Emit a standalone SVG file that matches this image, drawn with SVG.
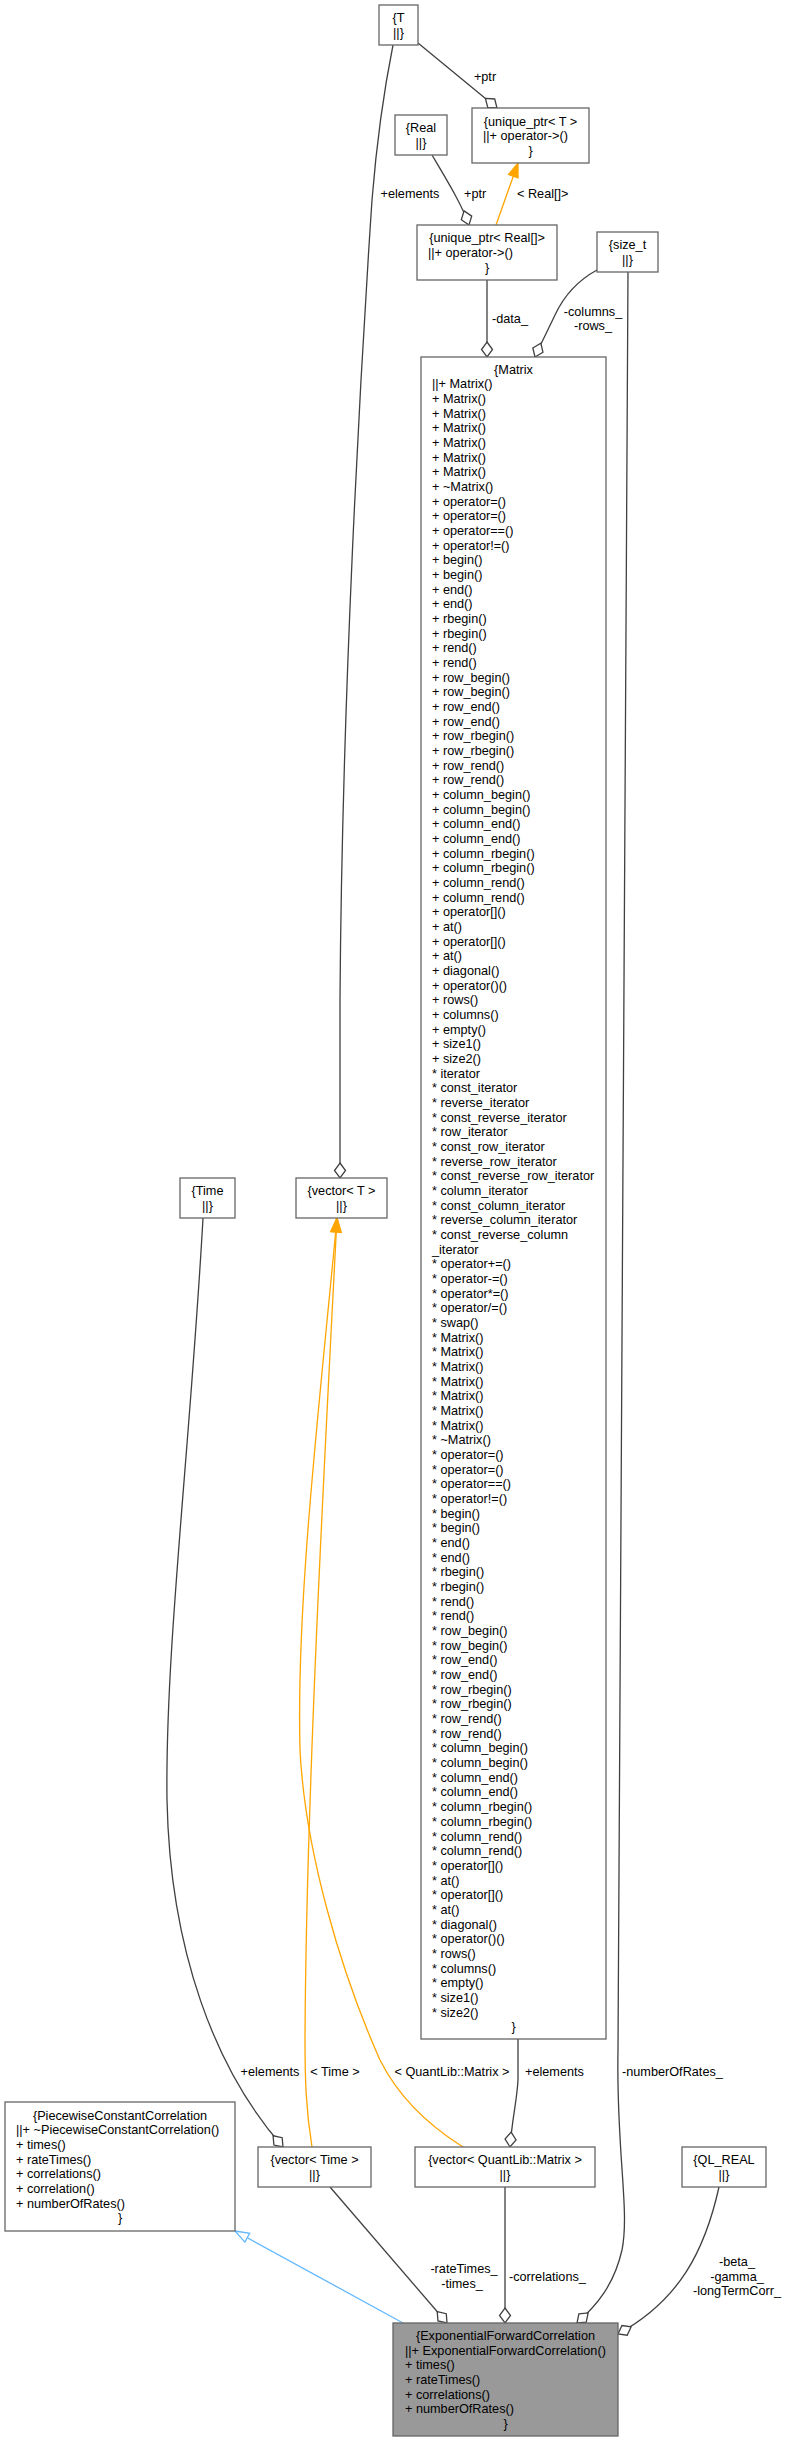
<svg xmlns="http://www.w3.org/2000/svg" width="788" height="2441" viewBox="0 0 788 2441">
<style>
.t{font-family:"Liberation Sans",Arial,sans-serif;font-size:12.7px;fill:#000}
.c{text-anchor:middle}
.n{fill:#fff;stroke:#666;stroke-width:1.3}
.nf{fill:#999;stroke:#666;stroke-width:1.3}
.e{fill:none;stroke:#404040;stroke-width:1.3}
.o{fill:none;stroke:#FFA500;stroke-width:1.3}
.b{fill:none;stroke:#63B8FF;stroke-width:1.3}
</style>
<defs>
<marker id="dia" markerUnits="userSpaceOnUse" markerWidth="20" markerHeight="16" refX="15" refY="5.5" orient="auto" overflow="visible"><path d="M0,5.5 L7.5,0 L15,5.5 L7.5,11 Z" fill="#fff" stroke="#404040" stroke-width="1.3"/></marker>
<marker id="oarr" markerUnits="userSpaceOnUse" markerWidth="18" markerHeight="14" refX="14" refY="5" orient="auto" overflow="visible"><path d="M0,0 L14,5 L0,10 Z" fill="#FFA500" stroke="#FFA500" stroke-width="1.3"/></marker>
<marker id="inh" markerUnits="userSpaceOnUse" markerWidth="18" markerHeight="14" refX="14" refY="5" orient="auto" overflow="visible"><path d="M0,0 L14,5 L0,10 Z" fill="#fff" stroke="#63B8FF" stroke-width="1.3"/></marker>
</defs>

<g id="edges">
<path class="e" d="M393,45 C383,95 376,150 372,200 C360,380 342,700 340,1000 L340,1178" marker-end="url(#dia)"/>
<path class="e" d="M418,43 L497,108" marker-end="url(#dia)"/>
<path class="e" d="M432,155 C448,182 462,205 469,225" marker-end="url(#dia)"/>
<path class="o" d="M496,225 L518,163" marker-end="url(#oarr)"/>
<path class="e" d="M487,280 L487,357" marker-end="url(#dia)"/>
<path class="e" d="M597,270 C575,282 562,300 555,315 C548,330 540,345 535,357" marker-end="url(#dia)"/>
<path class="e" d="M628,272 L618,2050 C616,2150 630,2210 622,2250 C614,2285 597,2305 577,2323" marker-end="url(#dia)"/>
<path class="e" d="M719,2187 C705,2250 680,2300 618,2334" marker-end="url(#dia)"/>
<path class="e" d="M505,2187 L505,2323" marker-end="url(#dia)"/>
<path class="e" d="M330,2187 L447,2323" marker-end="url(#dia)"/>
<path class="e" d="M518,2039 L518,2080 C517,2100 512,2120 510,2147" marker-end="url(#dia)"/>
<path class="e" d="M203,1218 C190,1450 165,1650 167,1800 C170,1950 215,2070 283,2147" marker-end="url(#dia)"/>
<path class="o" d="M463,2147 C420,2120 395,2090 380,2060 C340,1970 305,1850 300,1750 C296,1600 320,1400 337,1218" marker-end="url(#oarr)"/>
<path class="o" d="M312,2147 C306,2110 305,2080 305,2040 C306,1800 325,1450 337,1218" marker-end="url(#oarr)"/>
<path class="b" d="M403,2323 L235,2231" marker-end="url(#inh)"/>
<text class="t c" x="410" y="197.5">+elements</text>
<text class="t c" x="485" y="80.5">+ptr</text>
<text class="t" x="464" y="197.5">+ptr</text>
<text class="t" x="517" y="197.5">&lt; Real[]&gt;</text>
<text class="t" x="492" y="322.5">-data_</text>
<text class="t c" x="593" y="315.5">-columns_</text>
<text class="t c" x="593" y="329.5">-rows_</text>
<text class="t c" x="270" y="2075.5">+elements</text>
<text class="t c" x="335" y="2075.5">&lt; Time &gt;</text>
<text class="t c" x="452" y="2075.5">&lt; QuantLib::Matrix &gt;</text>
<text class="t" x="525" y="2075.5">+elements</text>
<text class="t" x="622" y="2075.5">-numberOfRates_</text>
<text class="t c" x="464" y="2272.5">-rateTimes_</text>
<text class="t c" x="462" y="2287.5">-times_</text>
<text class="t" x="509" y="2280.5">-correlations_</text>
<text class="t c" x="737" y="2265.5">-beta_</text>
<text class="t c" x="737" y="2280.5">-gamma_</text>
<text class="t c" x="737" y="2294.5">-longTermCorr_</text>
</g>

<g id="node-T">
<rect class="n" x="379" y="5" width="39" height="40"/>
<text class="t c" x="398.5" y="22.2">{T</text>
<text class="t c" x="398.5" y="36.8">||}</text>
</g>

<g id="node-unique_ptr_T">
<rect class="n" x="472" y="108" width="117" height="55"/>
<text class="t c" x="530.5" y="125.5">{unique_ptr&lt; T &gt;</text>
<text class="t" x="483" y="140.2">||+ operator-&gt;()</text>
<text class="t c" x="530.5" y="154.8">}</text>
</g>

<g id="node-Real">
<rect class="n" x="395" y="115" width="52" height="40"/>
<text class="t c" x="421" y="132.2">{Real</text>
<text class="t c" x="421" y="146.8">||}</text>
</g>

<g id="node-unique_ptr_Real">
<rect class="n" x="417" y="225" width="140" height="55"/>
<text class="t c" x="487" y="242.3">{unique_ptr&lt; Real[]&gt;</text>
<text class="t" x="428" y="257">||+ operator-&gt;()</text>
<text class="t c" x="487" y="271.7">}</text>
</g>

<g id="node-size_t">
<rect class="n" x="597" y="232" width="61" height="40"/>
<text class="t c" x="627.5" y="249.2">{size_t</text>
<text class="t c" x="627.5" y="263.8">||}</text>
</g>

<g id="node-Matrix">
<rect class="n" x="421" y="357" width="185" height="1682"/>
<text class="t c" x="513.5" y="373.5">{Matrix</text>
<text class="t" x="432" y="373.5"><tspan x="432" dy="14.67">||+ Matrix()</tspan><tspan x="432" dy="14.67">+ Matrix()</tspan><tspan x="432" dy="14.67">+ Matrix()</tspan><tspan x="432" dy="14.67">+ Matrix()</tspan><tspan x="432" dy="14.67">+ Matrix()</tspan><tspan x="432" dy="14.67">+ Matrix()</tspan><tspan x="432" dy="14.67">+ Matrix()</tspan><tspan x="432" dy="14.67">+ ~Matrix()</tspan><tspan x="432" dy="14.67">+ operator=()</tspan><tspan x="432" dy="14.67">+ operator=()</tspan><tspan x="432" dy="14.67">+ operator==()</tspan><tspan x="432" dy="14.67">+ operator!=()</tspan><tspan x="432" dy="14.67">+ begin()</tspan><tspan x="432" dy="14.67">+ begin()</tspan><tspan x="432" dy="14.67">+ end()</tspan><tspan x="432" dy="14.67">+ end()</tspan><tspan x="432" dy="14.67">+ rbegin()</tspan><tspan x="432" dy="14.67">+ rbegin()</tspan><tspan x="432" dy="14.67">+ rend()</tspan><tspan x="432" dy="14.67">+ rend()</tspan><tspan x="432" dy="14.67">+ row_begin()</tspan><tspan x="432" dy="14.67">+ row_begin()</tspan><tspan x="432" dy="14.67">+ row_end()</tspan><tspan x="432" dy="14.67">+ row_end()</tspan><tspan x="432" dy="14.67">+ row_rbegin()</tspan><tspan x="432" dy="14.67">+ row_rbegin()</tspan><tspan x="432" dy="14.67">+ row_rend()</tspan><tspan x="432" dy="14.67">+ row_rend()</tspan><tspan x="432" dy="14.67">+ column_begin()</tspan><tspan x="432" dy="14.67">+ column_begin()</tspan><tspan x="432" dy="14.67">+ column_end()</tspan><tspan x="432" dy="14.67">+ column_end()</tspan><tspan x="432" dy="14.67">+ column_rbegin()</tspan><tspan x="432" dy="14.67">+ column_rbegin()</tspan><tspan x="432" dy="14.67">+ column_rend()</tspan><tspan x="432" dy="14.67">+ column_rend()</tspan><tspan x="432" dy="14.67">+ operator[]()</tspan><tspan x="432" dy="14.67">+ at()</tspan><tspan x="432" dy="14.67">+ operator[]()</tspan><tspan x="432" dy="14.67">+ at()</tspan><tspan x="432" dy="14.67">+ diagonal()</tspan><tspan x="432" dy="14.67">+ operator()()</tspan><tspan x="432" dy="14.67">+ rows()</tspan><tspan x="432" dy="14.67">+ columns()</tspan><tspan x="432" dy="14.67">+ empty()</tspan><tspan x="432" dy="14.67">+ size1()</tspan><tspan x="432" dy="14.67">+ size2()</tspan><tspan x="432" dy="14.67">* iterator</tspan><tspan x="432" dy="14.67">* const_iterator</tspan><tspan x="432" dy="14.67">* reverse_iterator</tspan><tspan x="432" dy="14.67">* const_reverse_iterator</tspan><tspan x="432" dy="14.67">* row_iterator</tspan><tspan x="432" dy="14.67">* const_row_iterator</tspan><tspan x="432" dy="14.67">* reverse_row_iterator</tspan><tspan x="432" dy="14.67">* const_reverse_row_iterator</tspan><tspan x="432" dy="14.67">* column_iterator</tspan><tspan x="432" dy="14.67">* const_column_iterator</tspan><tspan x="432" dy="14.67">* reverse_column_iterator</tspan><tspan x="432" dy="14.67">* const_reverse_column</tspan><tspan x="432" dy="14.67">_iterator</tspan><tspan x="432" dy="14.67">* operator+=()</tspan><tspan x="432" dy="14.67">* operator-=()</tspan><tspan x="432" dy="14.67">* operator*=()</tspan><tspan x="432" dy="14.67">* operator/=()</tspan><tspan x="432" dy="14.67">* swap()</tspan><tspan x="432" dy="14.67">* Matrix()</tspan><tspan x="432" dy="14.67">* Matrix()</tspan><tspan x="432" dy="14.67">* Matrix()</tspan><tspan x="432" dy="14.67">* Matrix()</tspan><tspan x="432" dy="14.67">* Matrix()</tspan><tspan x="432" dy="14.67">* Matrix()</tspan><tspan x="432" dy="14.67">* Matrix()</tspan><tspan x="432" dy="14.67">* ~Matrix()</tspan><tspan x="432" dy="14.67">* operator=()</tspan><tspan x="432" dy="14.67">* operator=()</tspan><tspan x="432" dy="14.67">* operator==()</tspan><tspan x="432" dy="14.67">* operator!=()</tspan><tspan x="432" dy="14.67">* begin()</tspan><tspan x="432" dy="14.67">* begin()</tspan><tspan x="432" dy="14.67">* end()</tspan><tspan x="432" dy="14.67">* end()</tspan><tspan x="432" dy="14.67">* rbegin()</tspan><tspan x="432" dy="14.67">* rbegin()</tspan><tspan x="432" dy="14.67">* rend()</tspan><tspan x="432" dy="14.67">* rend()</tspan><tspan x="432" dy="14.67">* row_begin()</tspan><tspan x="432" dy="14.67">* row_begin()</tspan><tspan x="432" dy="14.67">* row_end()</tspan><tspan x="432" dy="14.67">* row_end()</tspan><tspan x="432" dy="14.67">* row_rbegin()</tspan><tspan x="432" dy="14.67">* row_rbegin()</tspan><tspan x="432" dy="14.67">* row_rend()</tspan><tspan x="432" dy="14.67">* row_rend()</tspan><tspan x="432" dy="14.67">* column_begin()</tspan><tspan x="432" dy="14.67">* column_begin()</tspan><tspan x="432" dy="14.67">* column_end()</tspan><tspan x="432" dy="14.67">* column_end()</tspan><tspan x="432" dy="14.67">* column_rbegin()</tspan><tspan x="432" dy="14.67">* column_rbegin()</tspan><tspan x="432" dy="14.67">* column_rend()</tspan><tspan x="432" dy="14.67">* column_rend()</tspan><tspan x="432" dy="14.67">* operator[]()</tspan><tspan x="432" dy="14.67">* at()</tspan><tspan x="432" dy="14.67">* operator[]()</tspan><tspan x="432" dy="14.67">* at()</tspan><tspan x="432" dy="14.67">* diagonal()</tspan><tspan x="432" dy="14.67">* operator()()</tspan><tspan x="432" dy="14.67">* rows()</tspan><tspan x="432" dy="14.67">* columns()</tspan><tspan x="432" dy="14.67">* empty()</tspan><tspan x="432" dy="14.67">* size1()</tspan><tspan x="432" dy="14.67">* size2()</tspan></text>
<text class="t c" x="513.5" y="2031.2">}</text>
</g>

<g id="node-Time">
<rect class="n" x="180" y="1178" width="55" height="40"/>
<text class="t c" x="207.5" y="1195.2">{Time</text>
<text class="t c" x="207.5" y="1209.8">||}</text>
</g>

<g id="node-vector_T">
<rect class="n" x="296" y="1178" width="91" height="40"/>
<text class="t c" x="341.5" y="1195.2">{vector&lt; T &gt;</text>
<text class="t c" x="341.5" y="1209.8">||}</text>
</g>

<g id="node-PiecewiseConstantCorrelation">
<rect class="n" x="5" y="2102" width="230" height="129"/>
<text class="t c" x="120" y="2119.7">{PiecewiseConstantCorrelation</text>
<text class="t" x="16" y="2119.7"><tspan x="16" dy="14.67">||+ ~PiecewiseConstantCorrelation()</tspan><tspan x="16" dy="14.67">+ times()</tspan><tspan x="16" dy="14.67">+ rateTimes()</tspan><tspan x="16" dy="14.67">+ correlations()</tspan><tspan x="16" dy="14.67">+ correlation()</tspan><tspan x="16" dy="14.67">+ numberOfRates()</tspan></text>
<text class="t c" x="120" y="2222.4">}</text>
</g>

<g id="node-vector_Time">
<rect class="n" x="258" y="2147" width="113" height="40"/>
<text class="t c" x="314.5" y="2164.2">{vector&lt; Time &gt;</text>
<text class="t c" x="314.5" y="2178.8">||}</text>
</g>

<g id="node-vector_Matrix">
<rect class="n" x="415" y="2147" width="180" height="40"/>
<text class="t c" x="505" y="2164.2">{vector&lt; QuantLib::Matrix &gt;</text>
<text class="t c" x="505" y="2178.8">||}</text>
</g>

<g id="node-QL_REAL">
<rect class="n" x="682" y="2147" width="84" height="40"/>
<text class="t c" x="724" y="2164.2">{QL_REAL</text>
<text class="t c" x="724" y="2178.8">||}</text>
</g>

<g id="node-ExponentialForwardCorrelation">
<rect class="nf" x="393" y="2323" width="225" height="113"/>
<text class="t c" x="505.5" y="2340">{ExponentialForwardCorrelation</text>
<text class="t" x="405" y="2340"><tspan x="405" dy="14.67">||+ ExponentialForwardCorrelation()</tspan><tspan x="405" dy="14.67">+ times()</tspan><tspan x="405" dy="14.67">+ rateTimes()</tspan><tspan x="405" dy="14.67">+ correlations()</tspan><tspan x="405" dy="14.67">+ numberOfRates()</tspan></text>
<text class="t c" x="505.5" y="2428">}</text>
</g>
</svg>
